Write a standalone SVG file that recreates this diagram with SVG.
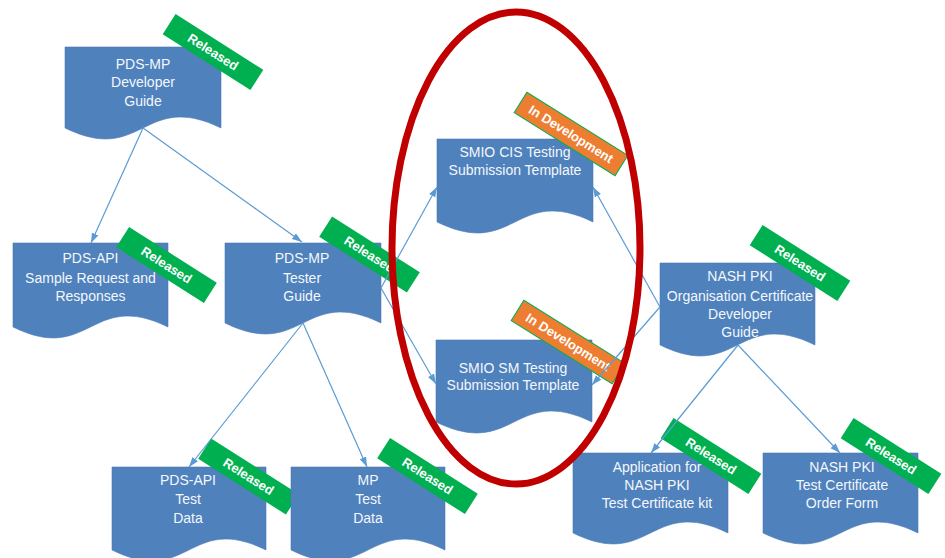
<svg xmlns="http://www.w3.org/2000/svg" width="945" height="558" viewBox="0 0 945 558">
<defs>
<style>
.doc{fill:#4f81bd;stroke:#4a7ab3;stroke-width:0.6}
.lbl{font-family:"Liberation Sans",Arial,sans-serif;font-size:14px;fill:#f4f7fb;text-anchor:middle}
.bg{fill:#00b050}
.dev{fill:#ed7d31;stroke:#00b050;stroke-width:1}
.bt{font-family:"Liberation Sans",Arial,sans-serif;font-size:13px;font-weight:bold;fill:#ffffff;text-anchor:middle}
.con{stroke:#5b9bd5;stroke-width:1.2;fill:none;marker-end:url(#arr)}
</style>
<marker id="arr" markerUnits="userSpaceOnUse" markerWidth="11" markerHeight="8" refX="10" refY="3.5" orient="auto">
<path d="M0,0 L10,3.5 L0,7 Z" fill="#5b9bd5"/>
</marker>
</defs>
<rect width="945" height="558" fill="#ffffff"/>

<g id="node-pdsmp-dev">
<path class="doc" d="M65 47 H221 V128 C143 90 143 166 65 128 Z"/>
<text class="lbl" x="143" y="69">PDS-MP</text>
<text class="lbl" x="143" y="87">Developer</text>
<text class="lbl" x="143" y="106">Guide</text>
<g transform="translate(213 52) rotate(32.5)"><rect class="bg" x="-52" y="-12" width="104" height="24"/><text class="bt" y="4.5">Released</text></g>
</g>

<g id="node-pdsapi-sample">
<path class="doc" d="M13 243 H168 V327 C90.5 289 90.5 365 13 327 Z"/>
<text class="lbl" x="90.5" y="263">PDS-API</text>
<text class="lbl" x="90.5" y="283">Sample Request and</text>
<text class="lbl" x="90.5" y="301">Responses</text>
<g transform="translate(166.5 265) rotate(32.5)"><rect class="bg" x="-52" y="-12" width="104" height="24"/><text class="bt" y="4.5">Released</text></g>
</g>

<g id="node-pdsmp-tester">
<path class="doc" d="M225 243 H381 V323 C303 285 303 361 225 323 Z"/>
<text class="lbl" x="302" y="263">PDS-MP</text>
<text class="lbl" x="302" y="283">Tester</text>
<text class="lbl" x="302" y="301">Guide</text>
<g transform="translate(369.5 254.5) rotate(32.5)"><rect class="bg" x="-52" y="-12" width="104" height="24"/><text class="bt" y="4.5">Released</text></g>
</g>

<g id="node-smio-cis">
<path class="doc" d="M437 139 H593 V222 C515 184 515 260 437 222 Z"/>
<text class="lbl" x="515" y="157">SMIO CIS Testing</text>
<text class="lbl" x="515" y="175">Submission Template</text>
<g transform="translate(571 134) rotate(32)"><rect class="dev" x="-59.5" y="-12" width="119" height="24"/><text class="bt" y="4.5">In Development</text></g>
</g>

<g id="node-smio-sm">
<path class="doc" d="M436 340 H592 V422 C514 384 514 460 436 422 Z"/>
<text class="lbl" x="513" y="373">SMIO SM Testing</text>
<text class="lbl" x="513" y="390">Submission Template</text>
<g transform="translate(568 342) rotate(32)"><rect class="dev" x="-59.5" y="-12" width="119" height="24"/><text class="bt" y="4.5">In Development</text></g>
</g>

<g id="node-nash-dev">
<path class="doc" d="M660 263 H815 V345 C737.5 307 737.5 383 660 345 Z"/>
<text class="lbl" x="740" y="281">NASH PKI</text>
<text class="lbl" x="740" y="301">Organisation Certificate</text>
<text class="lbl" x="740" y="319">Developer</text>
<text class="lbl" x="740" y="337">Guide</text>
<g transform="translate(800 263) rotate(32.5)"><rect class="bg" x="-52" y="-12" width="104" height="24"/><text class="bt" y="4.5">Released</text></g>
</g>

<g id="node-pdsapi-test">
<path class="doc" d="M112 467 H266 V550 C189 512 189 588 112 550 Z"/>
<text class="lbl" x="188" y="485">PDS-API</text>
<text class="lbl" x="188" y="504">Test</text>
<text class="lbl" x="188" y="523">Data</text>
<g transform="translate(248.5 476.5) rotate(32.5)"><rect class="bg" x="-52" y="-12" width="104" height="24"/><text class="bt" y="4.5">Released</text></g>
</g>

<g id="node-mp-test">
<path class="doc" d="M291 467 H445 V550 C368 512 368 588 291 550 Z"/>
<text class="lbl" x="368" y="485">MP</text>
<text class="lbl" x="368" y="504">Test</text>
<text class="lbl" x="368" y="523">Data</text>
<g transform="translate(427.5 476) rotate(32.5)"><rect class="bg" x="-52" y="-12" width="104" height="24"/><text class="bt" y="4.5">Released</text></g>
</g>

<g id="node-nash-app">
<path class="doc" d="M573 453 H728 V533 C650.5 495 650.5 571 573 533 Z"/>
<text class="lbl" x="657" y="472">Application for</text>
<text class="lbl" x="657" y="490">NASH PKI</text>
<text class="lbl" x="657" y="508">Test Certificate kit</text>
<g transform="translate(711 456) rotate(32.5)"><rect class="bg" x="-52" y="-12" width="104" height="24"/><text class="bt" y="4.5">Released</text></g>
</g>

<g id="node-nash-order">
<path class="doc" d="M763 453 H918 V533 C840.5 495 840.5 571 763 533 Z"/>
<text class="lbl" x="842" y="472">NASH PKI</text>
<text class="lbl" x="842" y="490">Test Certificate</text>
<text class="lbl" x="842" y="508">Order Form</text>
<g transform="translate(891 456) rotate(32.5)"><rect class="bg" x="-52" y="-12" width="104" height="24"/><text class="bt" y="4.5">Released</text></g>
</g>

<g id="connectors">
<line class="con" x1="143" y1="128" x2="91" y2="243"/>
<line class="con" x1="143" y1="128" x2="302" y2="242"/>
<line class="con" x1="381" y1="288" x2="437" y2="187"/>
<line class="con" x1="381" y1="288" x2="436" y2="384"/>
<line class="con" x1="303" y1="323" x2="189" y2="467"/>
<line class="con" x1="303" y1="323" x2="367" y2="467"/>
<line class="con" x1="660" y1="307" x2="593" y2="187"/>
<line class="con" x1="660" y1="307" x2="592" y2="385"/>
<line class="con" x1="738" y1="345" x2="651" y2="453"/>
<line class="con" x1="738" y1="345" x2="840" y2="453"/>
</g>

<g id="highlight">
<ellipse cx="516" cy="248" rx="124" ry="236" fill="none" stroke="#c00000" stroke-width="7"/>
</g>
</svg>
